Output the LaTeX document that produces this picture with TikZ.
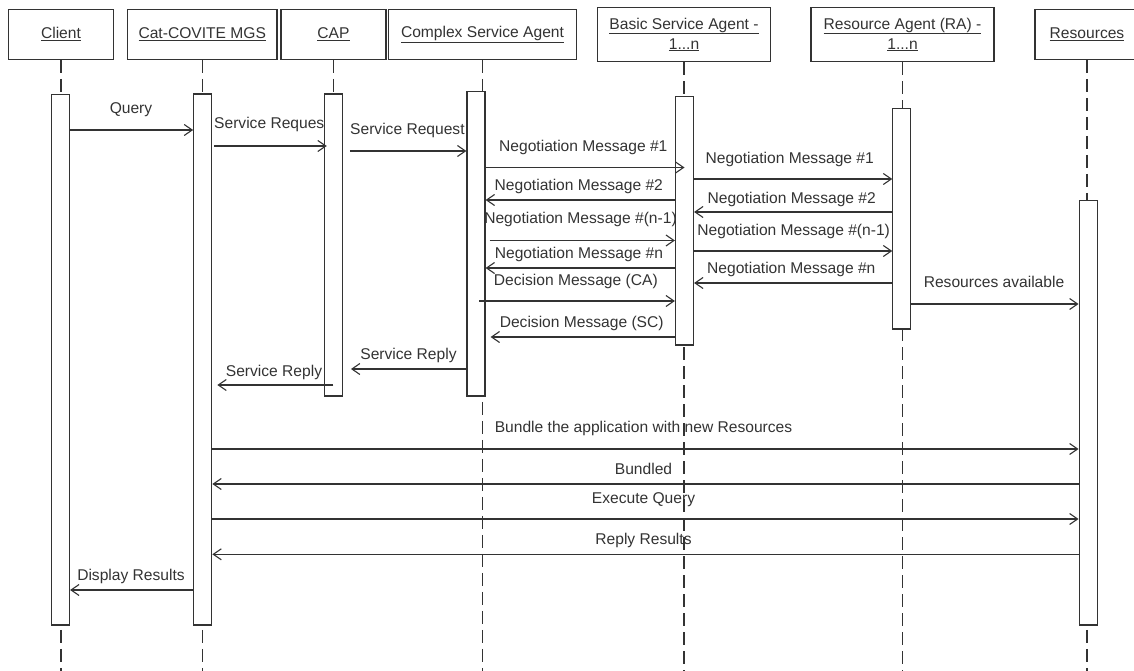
\documentclass[tikz,border=0pt]{standalone}
\usepackage{fontspec}
\setmainfont{Liberation Sans}
\usetikzlibrary{arrows.meta}
\definecolor{ink}{HTML}{333333}
\begin{document}
\begin{tikzpicture}[x=1pt,y=-1pt,
  every node/.style={font=\fontsize{15.6}{20}\selectfont, text=ink},
  head/.style={draw=ink, line width=1.2pt, fill=white, inner sep=0pt, align=center},
  bar/.style={draw=ink, line width=1.2pt, fill=white, inner sep=0pt, minimum width=18pt},
  life/.style={draw=ink, line width=1.1pt, dash pattern=on 13pt off 6pt},
  msg/.style={draw=ink, line width=1.1pt, -{Straight Barb[length=8pt,width=11pt]}},
  lab/.style={anchor=base, inner sep=0pt},
]
\useasboundingbox (0,0) rectangle (1134,671);
\coordinate (bottom) at (0,671);

% headers
\node[head, minimum width=105pt, minimum height=50pt] (hcli) at (61,34.3) {\underline{Client}};
\node[head, minimum width=149.5pt, minimum height=50pt] (hcat) at (202.25,34.3) {\underline{Cat-COVITE MGS}};
\node[head, minimum width=105pt, minimum height=50pt] (hcap) at (333.5,34.3) {\underline{CAP}};
\node[head, minimum width=187.5pt, minimum height=50pt] (hcsa) at (482.5,34.3) {\underline{Complex Service Agent}};
\node[head, minimum width=173pt, minimum height=54.2pt] (hbsa) at (684,34.4) {\underline{Basic Service Agent -}\\\underline{1...n}};
\node[head, minimum width=183pt, minimum height=54.2pt] (hra) at (902.5,34.4) {\underline{Resource Agent (RA) -}\\\underline{1...n}};
\node[head, minimum width=104pt, minimum height=50pt] (hres) at (1087,34.3) {\underline{Resources}};

% lifelines
\draw[life] (hcli.south) -- (hcli.south |- bottom);
\draw[life] (hcat.south) -- (hcat.south |- bottom);
\draw[life] (hcap.south) -- (hcap.south |- 0,396);
\draw[life] (hcsa.south) -- (hcsa.south |- bottom);
\draw[life] (hbsa.south) -- (hbsa.south |- bottom);
\draw[life] (hra.south) -- (hra.south |- bottom);
\draw[life] (hres.south) -- (hres.south |- bottom);

% activation bars
\node[bar, minimum height=530.7pt] (bcli) at (60.5,359.65) {};
\node[bar, minimum height=531pt] (bcat) at (202.75,359.5) {};
\node[bar, minimum height=302pt] (bcap) at (333.35,245) {};
\node[bar, minimum height=304.3pt] (bcsa) at (476,243.85) {};
\node[bar, minimum height=248.3pt] (bbsa) at (684.5,220.85) {};
\node[bar, minimum height=220.7pt] (bra) at (901.85,218.65) {};
\node[bar, minimum height=424.3pt] (bres) at (1088.15,412.85) {};

% messages
\draw[msg] (bcli.east |- 0,130) -- (bcat.west |- 0,130);
\draw[msg, shorten <=2pt, shorten >=-3pt] (bcat.east |- 0,146) -- (bcap.west |- 0,146);
\draw[msg, shorten <=7pt] (bcap.east |- 0,151) -- (bcsa.west |- 0,151);
\draw[msg] (bcsa.east |- 0,167.5) -- (bbsa.center |- 0,167.5);
\draw[msg] (bbsa.west |- 0,200) -- (bcsa.east |- 0,200);
\draw[msg, shorten <=4pt] (bcsa.east |- 0,240.5) -- (bbsa.west |- 0,240.5);
\draw[msg] (bbsa.west |- 0,268) -- (bcsa.east |- 0,268);
\draw[msg, shorten <=3pt] (bcsa.center |- 0,301) -- (bbsa.west |- 0,301);
\draw[msg, shorten >=5pt] (bbsa.west |- 0,337) -- (bcsa.east |- 0,337);
\draw[msg] (bbsa.east |- 0,179) -- (bra.west |- 0,179);
\draw[msg] (bra.west |- 0,212) -- (bbsa.east |- 0,212);
\draw[msg] (bbsa.east |- 0,251) -- (bra.west |- 0,251);
\draw[msg] (bra.west |- 0,283) -- (bbsa.east |- 0,283);
\draw[msg] (bra.east |- 0,304) -- (bres.west |- 0,304);
\draw[msg, shorten >=8pt] (bcsa.west |- 0,369) -- (bcap.east |- 0,369);
\draw[msg, shorten >=5pt] (bcap.center |- 0,385) -- (bcat.east |- 0,385);
\draw[msg] (bcat.east |- 0,449) -- (bres.west |- 0,449);
\draw[msg] (bres.west |- 0,484) -- (bcat.east |- 0,484);
\draw[msg] (bcat.east |- 0,519) -- (bres.west |- 0,519);
\draw[msg] (bres.west |- 0,554.3) -- (bcat.east |- 0,554.3);
\draw[msg] (bcat.west |- 0,590) -- (bcli.east |- 0,590);

% labels
\node[lab] (l1) at (131,113.5) {Query};
\node[lab, anchor=base west] (l2) at (214,128.8) {Service Reques};
\node[lab, anchor=base west] (l3) at (350,134.8) {Service Request};
\node[lab] (l4) at (583.3,151.5) {Negotiation Message \#1};
\node[lab] (l5) at (578.8,190.5) {Negotiation Message \#2};
\node[lab] (l6) at (580.5,223.8) {Negotiation Message \#(n-1)};
\node[lab] (l7) at (579,258.8) {Negotiation Message \#n};
\node[lab] (l8) at (575.8,285.5) {Decision Message (CA)};
\node[lab] (l9) at (581.7,327.8) {Decision Message (SC)};
\node[lab] (l10) at (789.7,163.2) {Negotiation Message \#1};
\node[lab] (l11) at (791.7,203.2) {Negotiation Message \#2};
\node[lab] (l12) at (793.7,235.5) {Negotiation Message \#(n-1)};
\node[lab] (l13) at (791.3,273.8) {Negotiation Message \#n};
\node[lab] (l14) at (994,287.8) {Resources available};
\node[lab] (l15) at (408.5,359.5) {Service Reply};
\node[lab] (l16) at (274,376.5) {Service Reply};
\node[lab] (l17) at (643.5,432.2) {Bundle the application with new Resources};
\node[lab] (l18) at (643.5,474.5) {Bundled};
\node[lab] (l19) at (643.5,503.2) {Execute Query};
\node[lab] (l20) at (643.5,544.8) {Reply Results};
\node[lab] (l21) at (131,580.5) {Display Results};
\end{tikzpicture}
\end{document}
